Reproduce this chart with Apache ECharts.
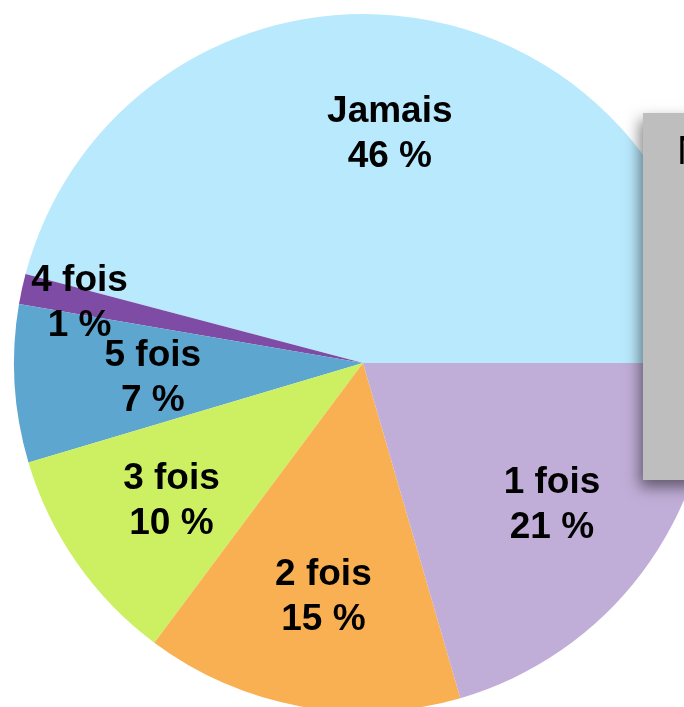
<!DOCTYPE html>
<html>
<head>
<meta charset="utf-8">
<style>
  html, body { margin: 0; padding: 0; background: #fff; }
  #chart { width: 684px; height: 707px; }
</style>
<script src="https://cdn.jsdelivr.net/npm/echarts@6/dist/echarts.min.js"></script>
</head>
<body>
<div id="chart"></div>
<script>
// slices, counter-clockwise from 3 o'clock
var categories = ['Jamais', '4 fois', '5 fois', '3 fois', '2 fois', '1 fois']
var shares = [45.9, 1.4, 7.3, 10.2, 14.7, 20.5]
var sliceColors = ['#b9e9fd', '#7f4ca5', '#5da6cf', '#ccf061', '#f8b052', '#c1aed8']
var legendTitle = 'N'

// label nudges (px) away from the default inside spot
var labelNudge = [[4, -53], [-110, -22], [-33, 5], [-46, 37], [-8, 60], [47, 36]]

var chart = echarts.init(document.getElementById('chart'))

chart.setOption({
  animation: false,
  series: [
    {
      type: 'pie',
      center: [363, 363],
      radius: [0, 349],
      startAngle: 0,
      clockwise: false,
      avoidLabelOverlap: false,
      label: {
        show: true,
        position: 'inside',
        color: '#000',
        fontFamily: 'Liberation Sans, Arial, sans-serif',
        fontWeight: 'bold',
        fontSize: 37,
        lineHeight: 45,
        formatter: function (p) {
          return p.name + '\n' + Math.round(p.percent) + ' %'
        }
      },
      labelLayout: function (p) {
        var n = labelNudge[p.dataIndex]
        return { dx: n[0], dy: n[1] }
      },
      labelLine: { show: false },
      itemStyle: { borderWidth: 0 },
      emphasis: { disabled: true },
      data: categories.map(function (c, i) {
        return { name: c, value: shares[i], itemStyle: { color: sliceColors[i] } }
      })
    }
  ],
  graphic: [
    {
      type: 'rect',
      z: 100,
      shape: { x: 643, y: 113, width: 60, height: 367 },
      style: {
        fill: '#bebebe',
        shadowBlur: 14,
        shadowColor: 'rgba(0,0,0,0.5)',
        shadowOffsetX: -3,
        shadowOffsetY: 7
      }
    },
    {
      type: 'text',
      z: 101,
      x: 677,
      y: 153,
      style: {
        text: legendTitle,
        fill: '#000',
        font: '40px "Liberation Sans", Arial, sans-serif',
        verticalAlign: 'middle'
      }
    }
  ]
})
</script>
</body>
</html>
